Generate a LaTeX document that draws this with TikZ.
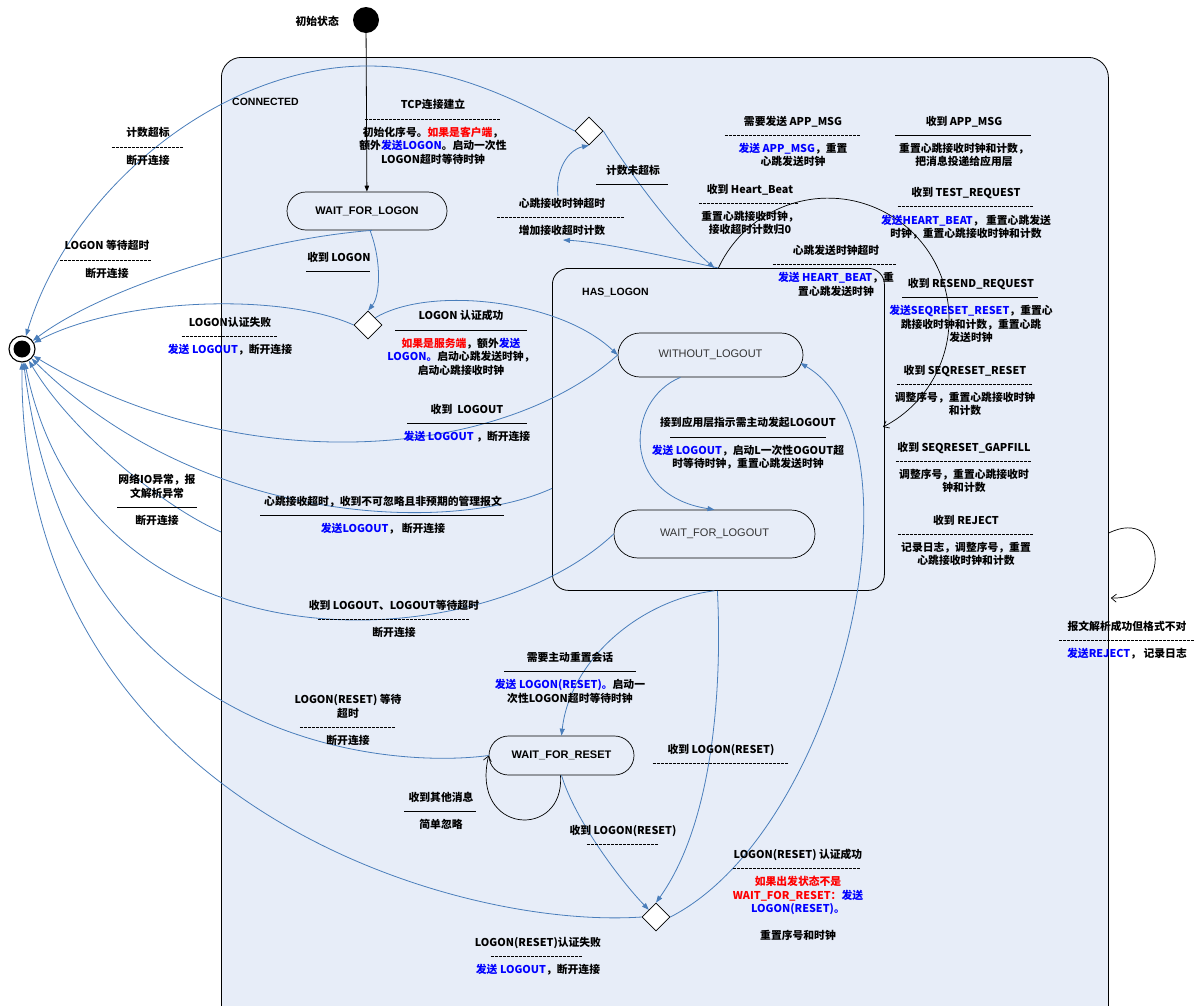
\documentclass[tikz,border=0pt]{standalone}
\usepackage{fontspec}
\setmainfont{Liberation Sans}
\newfontfamily\cjk{Noto Sans CJK SC}
\usetikzlibrary{arrows.meta,shapes.geometric,shapes.misc,calc}
\definecolor{bgc}{RGB}{231,237,248}
\definecolor{lnc}{RGB}{74,126,187}
\definecolor{tblue}{RGB}{0,0,255}
\definecolor{tred}{RGB}{255,0,0}
\newcommand\sepl[1]{\hbox to #1pt{\leaders\hbox to 4pt{\hss\rule[3pt]{3.2pt}{1pt}\hss}\hfill}}
\newcommand\bl[1]{\textcolor{tblue}{#1}}
\newcommand\rd[1]{\textcolor{tred}{#1}}
\begin{document}
\begin{tikzpicture}[x=1pt,y=-1pt,
  lbl/.style={align=center, inner sep=0pt, font=\cjk\bfseries\fontsize{10.8}{13.6}\selectfont},
  pill/.style={rounded rectangle, draw, line width=0.7pt, fill=bgc, inner sep=0pt, font=\fontsize{11}{13}\selectfont},
  choice/.style={diamond, draw, line width=0.7pt, fill=white, minimum width=28, minimum height=28, inner sep=0pt},
  tr/.style={draw=lnc, line width=0.8pt, -{Triangle[length=7pt,width=5pt]}},
  lp/.style={draw=black, line width=0.7pt, -{Straight Barb[length=5pt,width=8pt]}}]
\useasboundingbox (0,0) rectangle (1197,1005);
\fill[white] (0,0) rectangle (1197,1005);
% containers
\node[draw, line width=0.8pt, fill=bgc, rounded corners=20, minimum width=887, minimum height=1000, anchor=north west, inner sep=0pt] (conn) at (221,57) {};
\node[font=\bfseries\fontsize{10.5}{12}\selectfont, anchor=west, inner sep=0pt] (connlbl) at (232,102) {CONNECTED};
\node[draw, line width=0.8pt, fill=bgc, rounded corners=16, minimum width=332, minimum height=322, anchor=north west, inner sep=0pt] (has) at (552,268) {};
\node[font=\bfseries\fontsize{10.5}{12}\selectfont, anchor=west, inner sep=0pt] (haslbl) at (582,292) {HAS\_LOGON};
% pseudo states
\node[circle, fill=black, minimum size=26, inner sep=0pt] (init) at (366,20) {};
\node[lbl, anchor=east] (initlbl) at (339,21) {初始状态};
\node[circle, draw, fill=white, line width=1.1pt, minimum size=26, inner sep=0pt] (final) at (22,349) {};
\fill[black] (final.center) circle[radius=8.5];
% states
\node[pill, minimum width=160, minimum height=38, font=\bfseries\fontsize{11}{13}\selectfont] (wfl) at (367,211) {WAIT\_FOR\_LOGON};
\node[pill, minimum width=185, minimum height=44, text=black!80] (wol) at (710.5,355) {WITHOUT\_LOGOUT};
\node[pill, minimum width=201, minimum height=48, text=black!80] (wflo) at (714.5,534) {WAIT\_FOR\_LOGOUT};
\node[pill, minimum width=145, minimum height=39, font=\bfseries\fontsize{11}{13}\selectfont] (wfr) at (561.5,755.5) {WAIT\_FOR\_RESET};
\node[choice] (d1) at (589,131) {};
\node[choice] (d2) at (368,325) {};
\node[choice] (d3) at (656,917) {};
% helper coordinates
\coordinate (l7b) at (563,240);
\coordinate (l7t) at (558,196);
\coordinate (c13) at ($(conn.north west)+(0,475)$);
\coordinate (cl1) at ($(conn.north east)+(0,476)$);
\coordinate (cl2) at ($(conn.north east)+(2,541)$);
\coordinate (pk) at (367,66);
% connectors
\draw[black, line width=0.8pt, -{Triangle[length=6pt,width=4.5pt]}] (init) -- (wfl);
\draw[tr] ($(wfl.south)+(3,0)$) .. controls (382,262) and (380,296) .. (d2.north);
\draw[tr] ($(wfl.south)+(5,0)$) .. controls (250,240) and (100,290) .. (final);
\draw[tr] (d2.west) .. controls (280,292) and (120,298) .. (final);
\draw[tr] (d2.north east) .. controls (430,285) and (560,300) .. (wol.west);
\draw[tr] (d1.west) .. controls (500,90) and (440,66) .. (pk) .. controls (220,66) and (70,190) .. (final);
\draw[tr] (has.north) .. controls (660,255) and (600,242) .. (l7b);
\draw[tr] (l7t) .. controls (555,170) and (568,150) .. (d1.south);
\draw[tr] (d1.east) .. controls (615,150) and (665,225) .. ($(has.north)+(-4,0)$);
\draw[lp] (has.north) arc[start angle=205, end angle=423, radius=121];
\draw[tr] ($(wol.south)+(-30,0)$) .. controls (625,400) and (620,495) .. (wflo.north);
\draw[tr] (wol.west) .. controls (500,460) and (240,480) .. (final);
\draw[tr] ($(has.west)+(0,59)$) .. controls (450,535) and (200,525) .. (final);
\draw[tr] (c13) .. controls (160,505) and (70,430) .. (final);
\draw[tr] (wflo.west) .. controls (480,660) and (90,680) .. (final);
\draw[tr] ($(has.south)+(-4,0)$) .. controls (640,600) and (570,660) .. (wfr.north);
\draw[tr] ($(has.south)+(-1,0)$) .. controls (722,680) and (715,820) .. (d3.north);
\draw[tr] (wfr.south) .. controls (575,820) and (620,880) .. (d3.north west);
\draw[lp] ($(wfr.south)+(-1,0)$) .. controls (565,840) and (470,835) .. (wfr.west);
\draw[tr] (wfr.west) .. controls (380,770) and (70,740) .. (final);
\draw[tr] (d3.west) .. controls (450,930) and (20,800) .. (final);
\draw[tr] (d3.east) .. controls (840,830) and (930,440) .. ($(wol.east)+(-3,8)$);
\draw[lp] (cl1) .. controls (1165,505) and (1175,600) .. (cl2);
% labels
\node[lbl] (l1) at (433,132) {TCP连接建立\\\sepl{137}\\初始化序号。\rd{如果是客户端}，\\额外\bl{发送LOGON}。启动一次性\\LOGON超时等待时钟};
\node[lbl] (l2) at (148,146.5) {计数超标\\\sepl{73}\\断开连接};
\node[lbl] (l3) at (107,259.5) {LOGON 等待超时\\\sepl{95}\\断开连接};
\node[lbl] (l4) at (230,336.5) {LOGON认证失败\\\sepl{97}\\\bl{发送 LOGOUT}，断开连接};
\node[lbl] (l5) at (339,264) {收到 LOGON\\\sepl{66}};
\node[lbl] (l6) at (461,343) {LOGON 认证成功\\\sepl{132}\\\rd{如果是服务端}，额外\bl{发送}\\\bl{LOGON。}启动心跳发送时钟，\\启动心跳接收时钟};
\node[lbl] (l7) at (562,217) {心跳接收时钟超时\\\sepl{131}\\增加接收超时计数};
\node[lbl] (l8) at (633,177) {计数未超标\\\sepl{74}};
\node[lbl] (l9) at (793,141.5) {需要发送 APP\_MSG\\\sepl{137}\\\bl{发送 APP\_MSG}，重置\\心跳发送时钟};
\node[lbl] (l10) at (964,141.5) {收到 APP\_MSG\\\sepl{138}\\重置心跳接收时钟和计数，\\把消息投递给应用层};
\node[lbl] (l11) at (750,209.5) {收到 Heart\_Beat\\\sepl{103}\\重置心跳接收时钟，\\接收超时计数归0};
\node[lbl] (l12) at (966,213.5) {收到 TEST\_REQUEST\\\sepl{137}\\\bl{发送HEART\_BEAT}， 重置心跳发送\\时钟，重置心跳接收时钟和计数};
\node[lbl] (l13) at (836,270.5) {心跳发送时钟超时\\\sepl{127}\\\bl{发送 HEART\_BEAT}，重\\置心跳发送时钟};
\node[lbl] (l14) at (971,310.5) {收到 RESEND\_REQUEST\\\sepl{138}\\\bl{发送SEQRESET\_RESET}，重置心\\跳接收时钟和计数，重置心跳\\发送时钟};
\node[lbl] (l15) at (965,390.5) {收到 SEQRESET\_RESET\\\sepl{137}\\调整序号，重置心跳接收时钟\\和计数};
\node[lbl] (l16) at (964,467.5) {收到 SEQRESET\_GAPFILL\\\sepl{137}\\调整序号，重置心跳接收时\\钟和计数};
\node[lbl] (l17) at (966,540.5) {收到 REJECT\\\sepl{137}\\记录日志，调整序号，重置\\心跳接收时钟和计数};
\node[lbl] (l18) at (467,423.5) {收到 \ LOGOUT\\\sepl{120}\\\bl{发送 LOGOUT} ，断开连接};
\node[lbl] (l19) at (748,443.5) {接到应用层指示需主动发起LOGOUT\\\sepl{156}\\\bl{发送 LOGOUT}，启动L一次性OGOUT超\\时等待时钟，重置心跳发送时钟};
\node[lbl] (l20) at (157,500) {网络IO异常，报\\文解析异常\\\sepl{80}\\断开连接};
\node[lbl] (l21) at (383,515.5) {心跳接收超时，收到不可忽略且非预期的管理报文\\\sepl{246}\\\bl{发送LOGOUT}， 断开连接};
\node[lbl] (l22) at (394,618.5) {收到 LOGOUT、LOGOUT等待超时\\\sepl{153}\\断开连接};
\node[lbl] (l23) at (570,677.5) {需要主动重置会话\\\sepl{132}\\\bl{发送 LOGON(RESET)。}启动一\\次性LOGON超时等待时钟};
\node[lbl] (l24) at (348,720) {LOGON(RESET) 等待\\超时\\\sepl{97}\\断开连接};
\node[lbl] (l25) at (441,810.5) {收到其他消息\\\sepl{74}\\简单忽略};
\node[lbl] (l26) at (721,756) {收到 LOGON(RESET)\\\sepl{137}};
\node[lbl] (l27) at (623,836.5) {收到 LOGON(RESET)\\\sepl{73}};
\node[lbl] (l28) at (798,895) {LOGON(RESET) 认证成功\\\sepl{131}\\\rd{如果出发状态不是}\\\rd{WAIT\_FOR\_RESET：}\bl{发送}\\\bl{LOGON(RESET)。}\\\mbox{}\\重置序号和时钟};
\node[lbl] (l29) at (538,956.5) {LOGON(RESET)认证失败\\\sepl{95}\\\bl{发送 LOGOUT}，断开连接};
\node[lbl] (l30) at (1127,640.5) {报文解析成功但格式不对\\\sepl{137}\\\bl{发送REJECT}， 记录日志};
\end{tikzpicture}
\end{document}
